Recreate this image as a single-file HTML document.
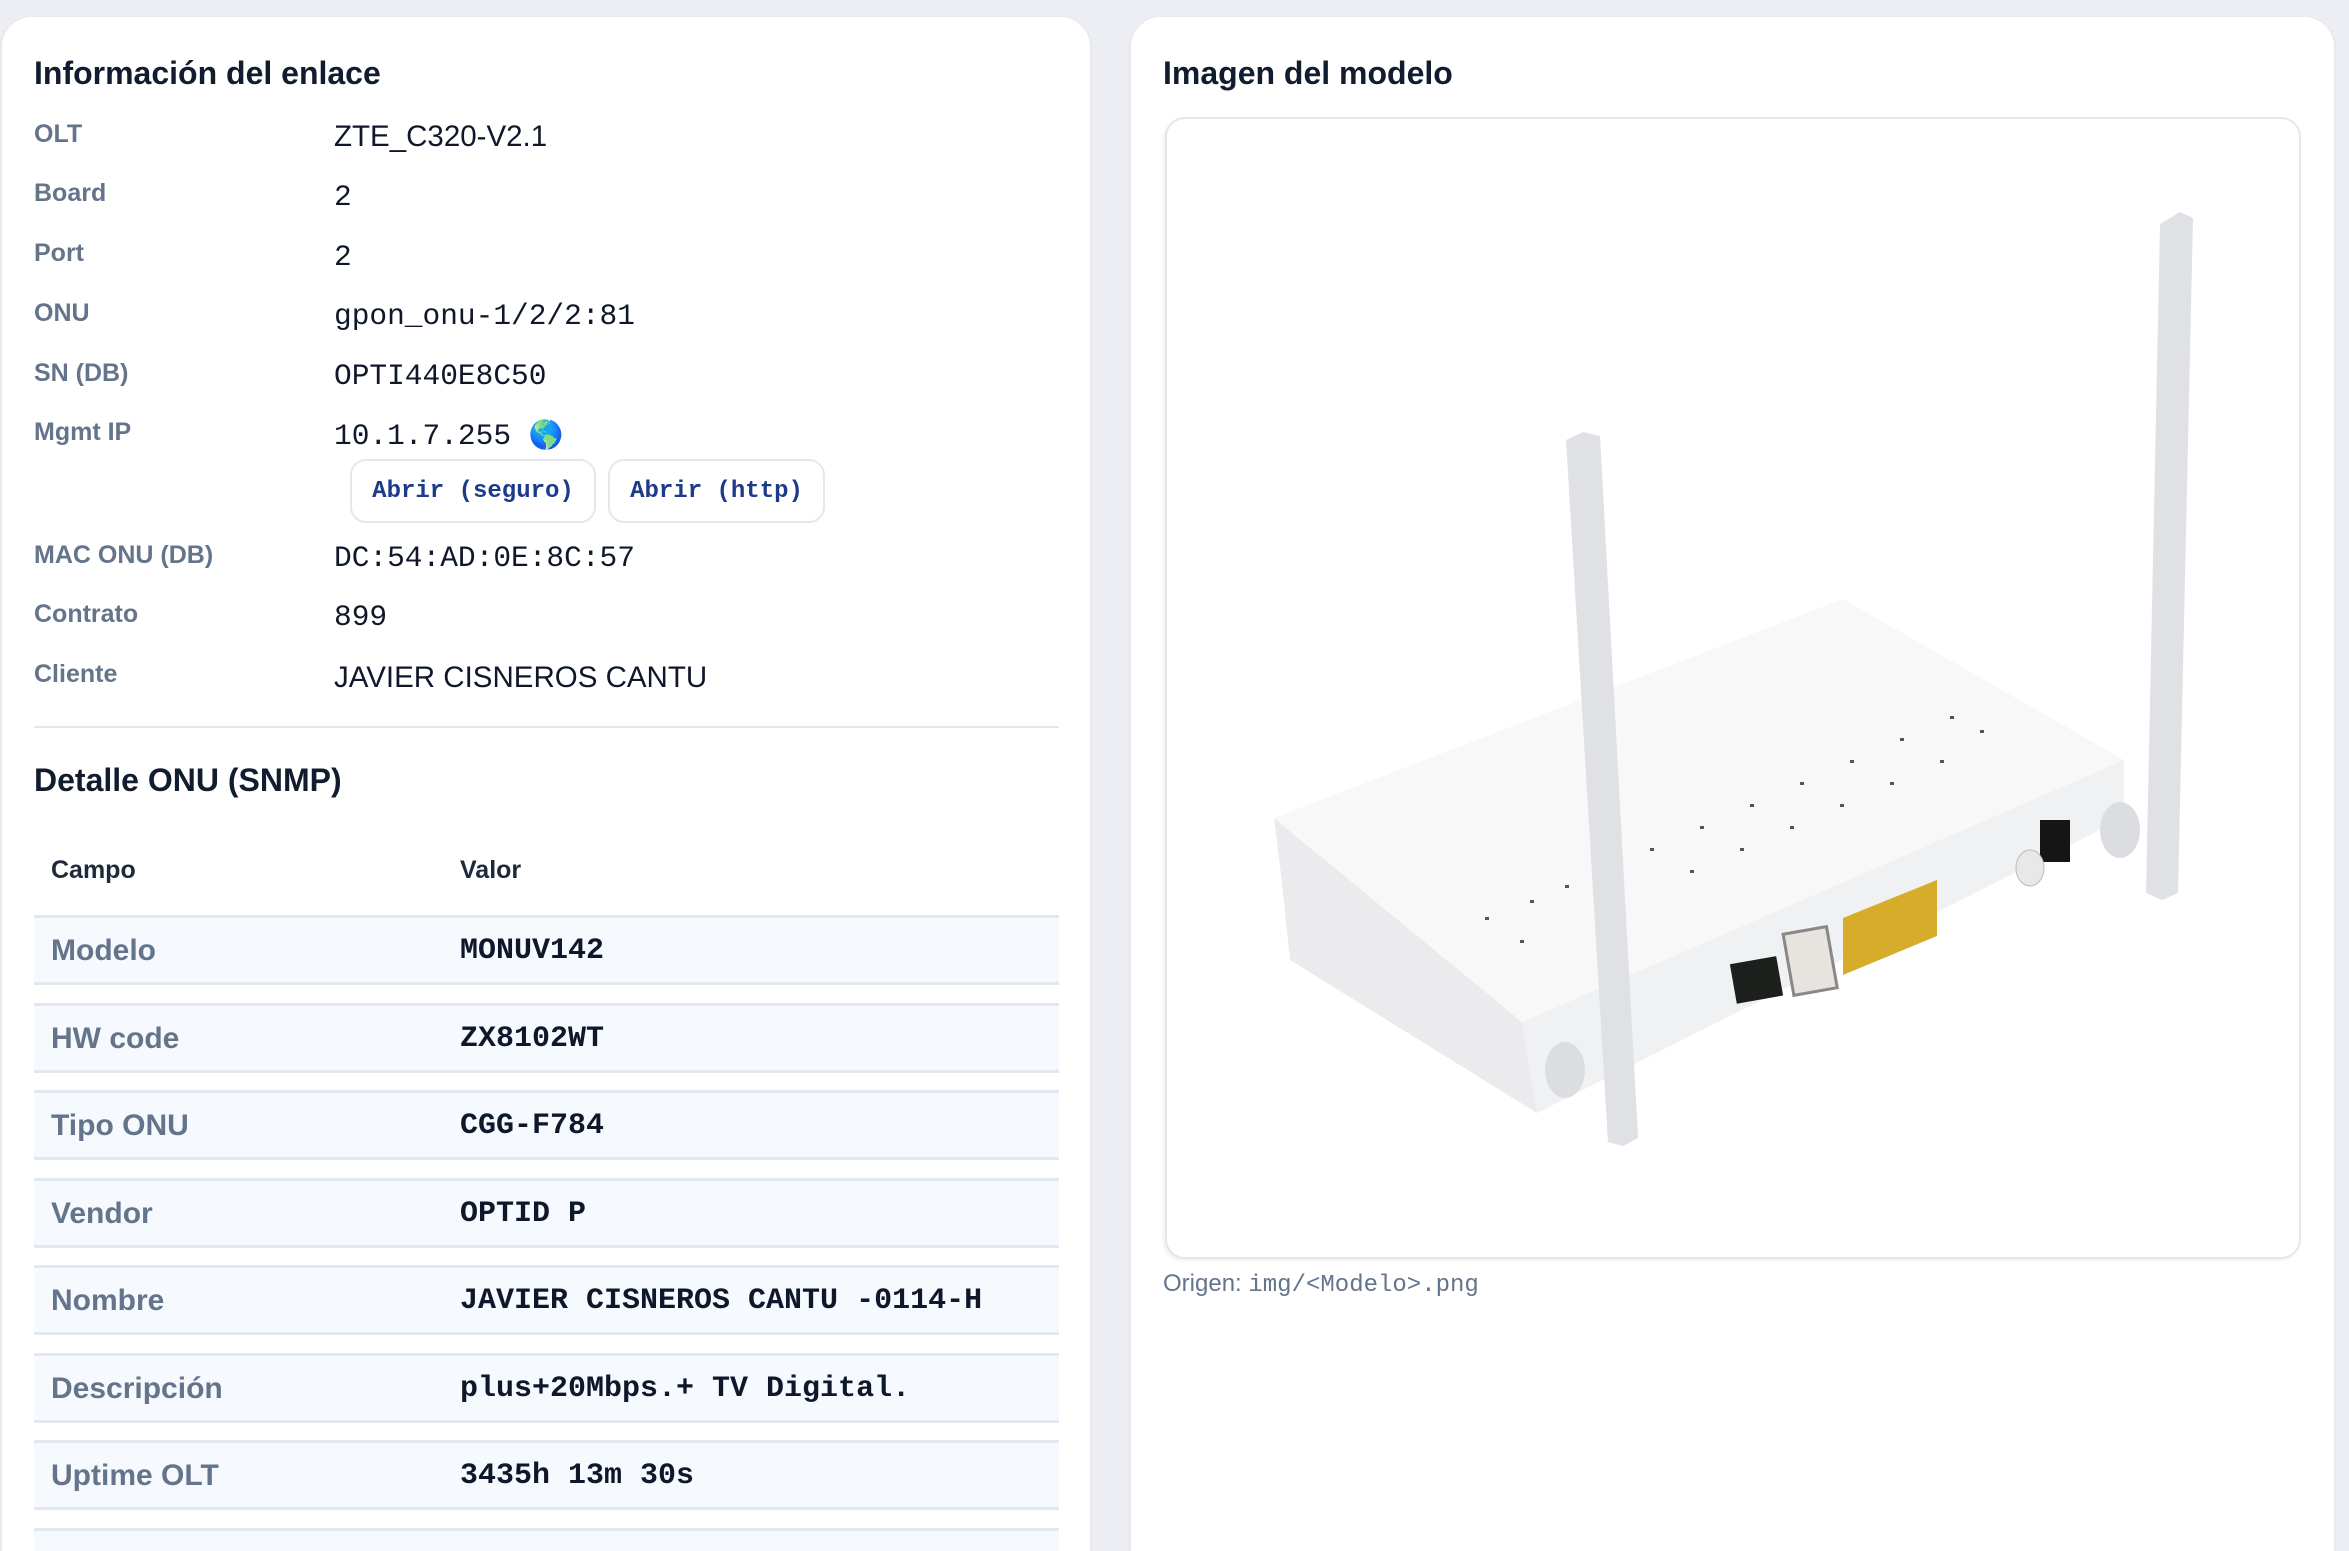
<!DOCTYPE html>
<html style="width:2349px;height:1551px;overflow:hidden"><head><meta charset="utf-8"><style>
*{margin:0;padding:0;box-sizing:border-box}
body{width:2349px;height:1551px;background:#eceef3;position:relative;overflow:hidden;font-family:"Liberation Sans",sans-serif;color:#0f172a}
.card{position:absolute;background:#fff;border-radius:30px;box-shadow:0 1px 4px rgba(0,0,0,.06)}
.a{position:absolute;white-space:nowrap}
.h{font-weight:700;font-size:32px;color:#111c2e}
.lbl{font-weight:700;font-size:25px;color:#64748b}
.val{font-family:"Liberation Mono",monospace;font-size:29.5px;color:#0f172a}
.btn{position:absolute;height:64px;border:2px solid #e5e7eb;border-radius:16px;font-family:"Liberation Mono",monospace;font-weight:700;font-size:24px;color:#1e3a8a;display:flex;align-items:center;justify-content:center}
.row{position:absolute;left:34px;width:1025px;height:70px;background:#f6f9fe;border-top:3px solid #e2e8f0;border-bottom:3px solid #e2e8f0}
.row .k{position:absolute;left:17px;top:16px;font-size:30px;font-weight:700;color:#64748b}
.row .v{position:absolute;left:426px;top:16px;font-family:"Liberation Mono",monospace;font-weight:700;font-size:30px;color:#0f172a}
</style></head><body>
<div class="card" style="left:2px;top:17px;width:1088px;height:1600px"></div>
<div class="card" style="left:1131px;top:17px;width:1203px;height:1600px"></div>

<div class="a h" style="left:34px;top:55px">Información del enlace</div>
<div class="a lbl" style="left:34px;top:120px">OLT</div><div class="a val" style="left:334px;top:120px;font-family:'Liberation Sans',sans-serif">ZTE_C320-V2.1</div>
<div class="a lbl" style="left:34px;top:179px">Board</div><div class="a val" style="left:334px;top:180px">2</div>
<div class="a lbl" style="left:34px;top:239px">Port</div><div class="a val" style="left:334px;top:240px">2</div>
<div class="a lbl" style="left:34px;top:299px">ONU</div><div class="a val" style="left:334px;top:299px">gpon_onu-1/2/2:81</div>
<div class="a lbl" style="left:34px;top:359px">SN (DB)</div><div class="a val" style="left:334px;top:359px">OPTI440E8C50</div>
<div class="a lbl" style="left:34px;top:418px">Mgmt IP</div><div class="a val" style="left:334px;top:418px">10.1.7.255 <span style="font-size:28px">🌎</span></div>
<div class="btn" style="left:350px;top:459px;width:246px">Abrir (seguro)</div>
<div class="btn" style="left:608px;top:459px;width:217px">Abrir (http)</div>
<div class="a lbl" style="left:34px;top:541px">MAC ONU (DB)</div><div class="a val" style="left:334px;top:541px">DC:54:AD:0E:8C:57</div>
<div class="a lbl" style="left:34px;top:600px">Contrato</div><div class="a val" style="left:334px;top:600px">899</div>
<div class="a lbl" style="left:34px;top:660px">Cliente</div><div class="a val" style="left:334px;top:661px;font-family:'Liberation Sans',sans-serif">JAVIER CISNEROS CANTU</div>
<div class="a" style="left:34px;top:726px;width:1025px;height:2px;background:#e5e7eb"></div>
<div class="a h" style="left:34px;top:762px">Detalle ONU (SNMP)</div>
<div class="a" style="left:51px;top:856px;font-size:25px;font-weight:700;color:#1e293b">Campo</div>
<div class="a" style="left:460px;top:856px;font-size:25px;font-weight:700;color:#1e293b">Valor</div>
<div class="row" style="top:915px"><span class="k">Modelo</span><span class="v">MONUV142</span></div>
<div class="row" style="top:1003px"><span class="k">HW code</span><span class="v">ZX8102WT</span></div>
<div class="row" style="top:1090px"><span class="k">Tipo ONU</span><span class="v">CGG-F784</span></div>
<div class="row" style="top:1178px"><span class="k">Vendor</span><span class="v">OPTID P</span></div>
<div class="row" style="top:1265px"><span class="k">Nombre</span><span class="v">JAVIER CISNEROS CANTU -0114-H</span></div>
<div class="row" style="top:1353px"><span class="k">Descripción</span><span class="v">plus+20Mbps.+ TV Digital.</span></div>
<div class="row" style="top:1440px"><span class="k">Uptime OLT</span><span class="v">3435h 13m 30s</span></div>
<div class="row" style="top:1528px"></div>

<div class="a h" style="left:1163px;top:55px">Imagen del modelo</div>
<div class="a" style="left:1165px;top:117px;width:1136px;height:1142px;border:2px solid #e5e7eb;border-radius:20px;background:#fff;box-shadow:-2px 2px 3px rgba(0,0,0,.06)"></div>
<svg class="a" style="left:0;top:0" width="2349" height="1551">
 <polygon points="1274,818 1522,1022 1537,1113 1290,960 1282,883" fill="#ebebed"/>
 <polygon points="1522,1022 2124,760 2124,818 1537,1113" fill="#f0f1f2"/>
 <polygon points="1274,818 1843,599 2124,760 1522,1022" fill="#f8f8f9"/>
 <g fill="#555">
  <rect x="1485" y="917" width="4" height="3"/><rect x="1530" y="900" width="4" height="3"/><rect x="1565" y="885" width="4" height="3"/>
  <rect x="1600" y="870" width="4" height="3"/><rect x="1650" y="848" width="4" height="3"/><rect x="1700" y="826" width="4" height="3"/>
  <rect x="1750" y="804" width="4" height="3"/><rect x="1800" y="782" width="4" height="3"/><rect x="1850" y="760" width="4" height="3"/>
  <rect x="1900" y="738" width="4" height="3"/><rect x="1950" y="716" width="4" height="3"/><rect x="1980" y="730" width="4" height="3"/>
  <rect x="1520" y="940" width="4" height="3"/><rect x="1690" y="870" width="4" height="3"/><rect x="1740" y="848" width="4" height="3"/>
  <rect x="1790" y="826" width="4" height="3"/><rect x="1840" y="804" width="4" height="3"/><rect x="1890" y="782" width="4" height="3"/>
  <rect x="1940" y="760" width="4" height="3"/>
 </g>
 <rect x="1733" y="960" width="47" height="40" fill="#1d1f1d" transform="rotate(-10 1756 980)"/>
 <rect x="1788" y="930" width="44" height="62" fill="#e7e4df" stroke="#888" stroke-width="3" transform="rotate(-10 1810 960)"/>
 <polygon points="1843,918 1937,880 1937,936 1843,975" fill="#d8ac2b"/>
 <rect x="2040" y="820" width="30" height="42" fill="#151515"/>
 <ellipse cx="2030" cy="868" rx="14" ry="18" fill="#e8e8e8" stroke="#bbb"/>
 <polygon points="1566,440 1583,432 1600,436 1638,1138 1623,1146 1608,1142" fill="#e0e1e4"/>
 <polygon points="2160,224 2180,212 2193,218 2178,893 2162,900 2146,893" fill="#e0e1e4"/>
 <ellipse cx="1565" cy="1070" rx="20" ry="28" fill="#dcdde0"/>
 <ellipse cx="2120" cy="830" rx="20" ry="28" fill="#dcdde0"/>
</svg>
<div class="a" style="left:1163px;top:1270px;font-size:24px;color:#64748b">Origen: <span style="font-family:'Liberation Mono',monospace">img/&lt;Modelo&gt;.png</span></div>
</body></html>
